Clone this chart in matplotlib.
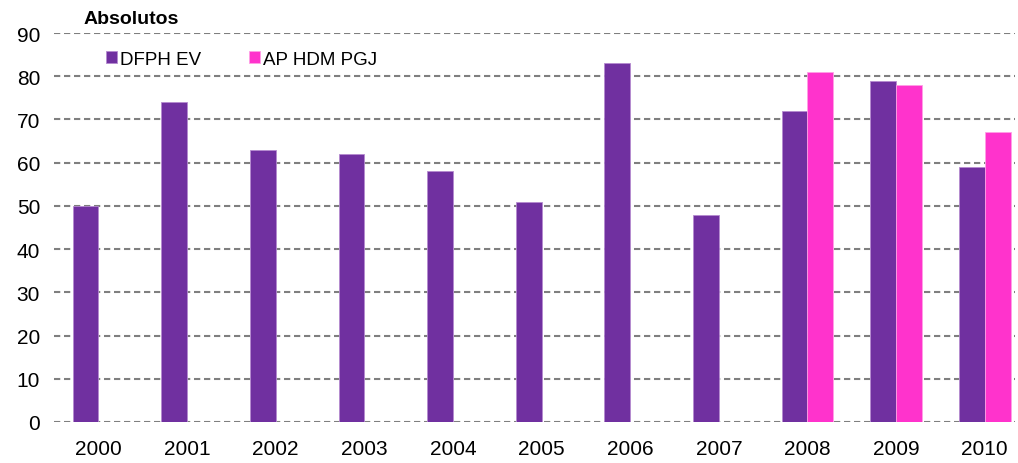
import numpy as np
import matplotlib
matplotlib.use('Agg')
import matplotlib.pyplot as plt

plt.rcParams['font.family'] = ['Liberation Sans', 'DejaVu Sans']

years = ['2000', '2001', '2002', '2003', '2004', '2005', '2006', '2007', '2008', '2009', '2010']
dfph_ev = [50, 74, 63, 62, 58, 51, 83, 48, 72, 79, 59]
ap_hdm_pgj = [np.nan] * 8 + [81, 78, 67]

PURPLE = '#7030A0'
PINK = '#FF33CC'

fig = plt.figure(figsize=(10.18, 4.64), dpi=100)
ax = fig.add_axes([0.053, 0.0884, 0.944, 0.8383])

x = np.arange(len(years))
w = 0.29
ax.bar(x - w / 2, dfph_ev, w, color=PURPLE, edgecolor='#b58ad0', linewidth=0.6, label='DFPH EV', zorder=3)
ax.bar(x + w / 2, ap_hdm_pgj, w, color=PINK, edgecolor='#ffa0e6', linewidth=0.6, label='AP HDM PGJ', zorder=3)

ax.set_xlim(-0.5, 10.34)
ax.set_ylim(0, 90)
ax.set_yticks(range(0, 91, 10))
ax.set_xticks(x)
ax.set_xticklabels(years)
ax.tick_params(axis='both', length=0, labelsize=15)
ax.tick_params(axis='x', pad=12)
ax.tick_params(axis='y', pad=10)
for s in ax.spines.values():
    s.set_visible(False)
ax.yaxis.grid(True, color='#7f7f7f', linestyle=(0, (3, 1.8)), linewidth=1.5, zorder=0)
ax.set_axisbelow(True)

fig.text(0.082, 0.958, 'Absolutos', fontsize=14, fontweight='bold', va='center')

ax.legend(loc='upper left', bbox_to_anchor=(0.037, 0.998), ncol=2, frameon=False,
          fontsize=13.5, handlelength=0.55, handleheight=0.55, handletextpad=0.15,
          columnspacing=2.6)

plt.savefig('out.png', dpi=100)
